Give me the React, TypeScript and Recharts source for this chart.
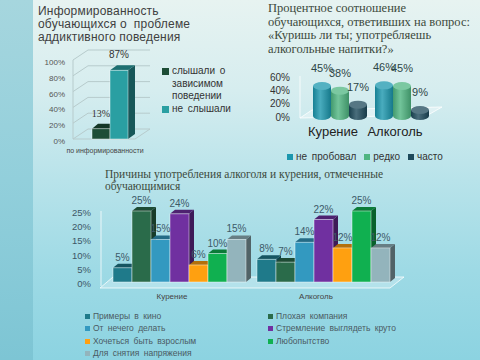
import { Bar, BarChart, CartesianGrid, LabelList, XAxis, YAxis } from "recharts";

const SANS = '"Liberation Sans", Arial, sans-serif';
const SERIF = '"Liberation Serif", "Times New Roman", serif';

// awareness chart
const awarenessCategories = ["по информированности"];
const awarenessSeries = ["слышали о зависимом поведении", "не слышали"];
const awarenessHeard = [13];
const awarenessNotHeard = [87];
const awarenessTicks = [0, 20, 40, 60, 80, 100];

// smoking / alcohol chart
const habitCategories = ["Курение", "Алкоголь"];
const habitSeries = ["не пробовал", "редко", "часто"];
const neverTried = [45, 46];
const rarely = [38, 45];
const often = [17, 9];
const habitTicks = [0, 20, 40, 60];

// reasons chart
const reasonCategories = ["Курение", "Алкоголь"];
const reasonSeries = [
  "Примеры в кино",
  "Плохая компания",
  "От нечего делать",
  "Стремление выглядеть круто",
  "Хочеться быть взрослым",
  "Любопытство",
  "Для снятия напряжения",
];
const reasonSmoking = [5, 25, 15, 24, 6, 10, 15];
const reasonAlcohol = [8, 7, 14, 22, 12, 25, 12];
const reasonTicks = [0, 5, 10, 15, 20, 25];

const awarenessColors = ["#1d4d36", "#2a9fa2"];
const habitColors = ["#1b97ae", "#4fb581", "#1d4a5b"];
const reasonColors = ["#1f7a8a", "#2a6b4a", "#3399c0", "#7030a0", "#ffa010", "#10b050", "#93b4bc"];

const awarenessData = awarenessCategories.map((name, i) => ({
  name,
  heard: awarenessHeard[i],
  notHeard: awarenessNotHeard[i],
}));

const habitData = habitCategories.map((name, i) => ({
  name,
  never: neverTried[i],
  rarely: rarely[i],
  often: often[i],
}));
const habitKeys = ["never", "rarely", "often"];

const reasonData = reasonCategories.map((name, i) => {
  const source = i === 0 ? reasonSmoking : reasonAlcohol;
  const row: Record<string, string | number> = { name };
  reasonSeries.forEach((_, j) => {
    row[`r${j}`] = source[j];
  });
  return row;
});

function mix(hex: string, k: number, target: number) {
  const n = parseInt(hex.slice(1), 16);
  const c = [(n >> 16) & 255, (n >> 8) & 255, n & 255].map((v) =>
    Math.round(v + (target - v) * k)
  );
  return `rgb(${c[0]},${c[1]},${c[2]})`;
}
const shade = (hex: string, k: number) => mix(hex, k, 0);
const tint = (hex: string, k: number) => mix(hex, k, 255);

function box(dx: number, dy: number) {
  return (props: any) => {
    const { x, y, width, height, fill } = props;
    if (!height || height <= 0) return <g />;
    const top = `${x},${y} ${x + dx},${y - dy} ${x + width + dx},${y - dy} ${x + width},${y}`;
    const side = `${x + width},${y} ${x + width + dx},${y - dy} ${x + width + dx},${y + height - dy} ${x + width},${y + height}`;
    return (
      <g>
        <polygon points={side} fill={shade(fill, 0.45)} />
        <polygon points={top} fill={shade(fill, 0.3)} />
        <rect
          x={x}
          y={y}
          width={width}
          height={height}
          fill={fill}
          stroke="rgba(255,255,255,0.55)"
          strokeWidth={0.8}
        />
      </g>
    );
  };
}

function cylinder(id: string) {
  return (props: any) => {
    const { x, y, width, height, fill } = props;
    const rx = width / 2;
    const ry = 4;
    const cx = x + rx;
    return (
      <g>
        <defs>
          <linearGradient id={id} x1="0" x2="1" y1="0" y2="0">
            <stop offset="0" stopColor={shade(fill, 0.15)} />
            <stop offset="0.4" stopColor={tint(fill, 0.2)} />
            <stop offset="1" stopColor={shade(fill, 0.2)} />
          </linearGradient>
        </defs>
        <ellipse cx={cx} cy={y + height} rx={rx} ry={ry} fill={`url(#${id})`} />
        <rect x={x} y={y} width={width} height={height} fill={`url(#${id})`} />
        <ellipse cx={cx} cy={y} rx={rx} ry={ry} fill={tint(fill, 0.25)} />
      </g>
    );
  };
}

const valueTick =
  (shiftX: number, dy: number, size: number, color: string) => (p: any) => (
    <text
      x={p.x - shiftX}
      y={p.y + dy}
      textAnchor="end"
      fontSize={size}
      fill={color}
      fontFamily={SANS}
    >
      {`${p.payload.value}%`}
    </text>
  );

const categoryTick =
  (dx: number, dy: number, size: number, color: string) => (p: any) => (
    <text
      x={p.x + dx}
      y={p.y + dy}
      textAnchor="middle"
      fontSize={size}
      fill={color}
      fontFamily={SANS}
    >
      {p.payload.value}
    </text>
  );

const wallLine = (p: any) => (
  <polyline
    key={p.key}
    points={`${p.x1},${p.y1} ${p.x1 + 15},${p.y1 - 10} ${p.x2 + 3},${p.y2 - 10}`}
    fill="none"
    stroke="#b7cbcc"
    strokeWidth={1}
  />
);

const pct = (v: any) => `${v}%`;

function Swatch({ color, size }: { color: string; size: number }) {
  return (
    <span
      style={{
        display: "inline-block",
        width: size,
        height: size,
        background: color,
        marginRight: 3,
        flex: "none",
      }}
    />
  );
}

export default function App() {
  return (
    <div
      style={{
        position: "fixed",
        left: 0,
        top: 0,
        width: 480,
        height: 360,
        overflow: "hidden",
        fontFamily: SANS,
        background:
          "linear-gradient(180deg, #e7f3f1 0%, #d6edef 25%, #b8e3ea 50%, #9edae5 75%, #8cd3e1 100%)",
      }}
    >
      <div
        style={{
          position: "absolute",
          left: 0,
          top: 0,
          width: 33,
          height: 360,
          background: "linear-gradient(180deg, #a6d6de 0%, #92cfdb 50%, #7dc5d4 100%)",
        }}
      />

      <svg
        width={480}
        height={360}
        style={{ position: "absolute", left: 0, top: 0 }}
      >
        <polyline
          points="73,139 135,139 150,129"
          fill="none"
          stroke="#b7cbcc"
        />
        <polygon
          points="300,118 428,115 442,107 312,110"
          fill="rgba(255,255,255,0.35)"
          stroke="rgba(255,255,255,0.8)"
        />
        <line x1={300} y1={76} x2={300} y2={118} stroke="rgba(255,255,255,0.8)" />
        <polygon
          points="100,288 390,288 404,277 113,277"
          fill="rgba(255,255,255,0.25)"
          stroke="rgba(255,255,255,0.75)"
        />
        <line x1={101} y1={211} x2={101} y2={286} stroke="rgba(255,255,255,0.75)" />
      </svg>

      {/* titles */}
      <div
        style={{
          position: "absolute",
          left: 38,
          top: 5,
          fontSize: 12,
          lineHeight: "13px",
          color: "#404040",
          letterSpacing: 0.2,
          whiteSpace: "nowrap",
        }}
      >
        Информированность
        <br />
        обучающихся о &nbsp;проблеме
        <br />
        аддиктивного поведения
      </div>
      <div
        style={{
          position: "absolute",
          left: 268,
          top: 2,
          fontFamily: SERIF,
          fontSize: 12.5,
          lineHeight: "13.5px",
          color: "#3c4a3c",
          whiteSpace: "nowrap",
        }}
      >
        Процентное соотношение
        <br />
        обучающихся, ответивших на вопрос:
        <br />
        «Куришь ли ты; употребляешь
        <br />
        алкогольные напитки?»
      </div>
      <div
        style={{
          position: "absolute",
          left: 105,
          top: 169,
          fontFamily: SERIF,
          fontSize: 11.5,
          lineHeight: "11.5px",
          color: "#3c4a3c",
          whiteSpace: "nowrap",
        }}
      >
        Причины употребления алкоголя и курения, отмеченные
        <br />
        обучающимися
      </div>

      {/* chart 1 */}
      <div style={{ position: "absolute", left: 40, top: 40 }}>
        <BarChart
          width={120}
          height={120}
          data={awarenessData}
          margin={{ left: 0, right: 13, top: 20, bottom: 5 }}
          barGap={0}
        >
          <CartesianGrid vertical={false} horizontal={wallLine} />
          <XAxis
            dataKey="name"
            axisLine={false}
            tickLine={false}
            height={16}
            interval={0}
            tick={categoryTick(-5, 6, 7, "#444")}
          />
          <YAxis
            domain={[0, 100]}
            ticks={awarenessTicks}
            interval={0}
            width={33}
            axisLine={{ stroke: "#b7cbcc" }}
            tickLine={false}
            tick={valueTick(0, 5, 8, "#555")}
          />
          <Bar
            dataKey="heard"
            name={awarenessSeries[0]}
            fill={awarenessColors[0]}
            barSize={18}
            shape={box(6, 5)}
            isAnimationActive={false}
          >
            <LabelList
              dataKey="heard"
              position="top"
              offset={12}
              formatter={pct}
              style={{ fontSize: 10, fill: "#333", fontFamily: SERIF }}
            />
          </Bar>
          <Bar
            dataKey="notHeard"
            name={awarenessSeries[1]}
            fill={awarenessColors[1]}
            barSize={18}
            shape={box(7, 5)}
            isAnimationActive={false}
          >
            <LabelList
              dataKey="notHeard"
              position="top"
              offset={12}
              formatter={pct}
              style={{ fontSize: 10, fill: "#333" }}
            />
          </Bar>
        </BarChart>
      </div>
      <div
        style={{
          position: "absolute",
          left: 162,
          top: 65,
          fontSize: 10,
          lineHeight: "12.5px",
          color: "#333",
        }}
      >
        {awarenessSeries.map((s, i) => (
          <div key={s} style={{ display: "flex", alignItems: "flex-start" }}>
            <span style={{ marginTop: 3, display: "flex" }}>
              <Swatch color={awarenessColors[i]} size={7} />
            </span>
            <span style={{ width: 62, wordSpacing: 2 }}>{s}</span>
          </div>
        ))}
      </div>

      {/* chart 2 */}
      <div style={{ position: "absolute", left: 260, top: 60 }}>
        <BarChart
          width={190}
          height={90}
          data={habitData}
          margin={{ left: 0, right: 17, top: 16, bottom: 4 }}
          barGap={0}
        >
          <XAxis
            dataKey="name"
            axisLine={false}
            tickLine={false}
            height={30}
            interval={0}
            tick={categoryTick(-7, 12, 13, "#222")}
          />
          <YAxis
            domain={[0, 60]}
            ticks={habitTicks}
            interval={0}
            width={49}
            axisLine={false}
            tickLine={false}
            tick={valueTick(11, 4.5, 10, "#333")}
          />
          {habitKeys.map((k, i) => (
            <Bar
              key={k}
              dataKey={k}
              name={habitSeries[i]}
              fill={habitColors[i]}
              barSize={18}
              shape={cylinder(`cyl-${k}`)}
              isAnimationActive={false}
            >
              <LabelList
                dataKey={k}
                position="top"
                offset={14}
                formatter={pct}
                style={{ fontSize: 11, fill: "#2d4646" }}
              />
            </Bar>
          ))}
        </BarChart>
      </div>
      <div
        style={{
          position: "absolute",
          left: 287,
          top: 151,
          display: "flex",
          gap: 8,
          fontSize: 10,
          lineHeight: "12px",
          color: "#333",
          whiteSpace: "nowrap",
        }}
      >
        {habitSeries.map((s, i) => (
          <div key={s} style={{ display: "flex", alignItems: "center" }}>
            <Swatch color={habitColors[i]} size={6} />
            <span style={{ wordSpacing: 2 }}>{s}</span>
          </div>
        ))}
      </div>

      {/* chart 3 */}
      <div style={{ position: "absolute", left: 60, top: 196 }}>
        <BarChart
          width={360}
          height={110}
          data={reasonData}
          margin={{ left: 0, right: 26, top: 15, bottom: 4 }}
          barGap={0}
          barCategoryGap={7}
        >
          <XAxis
            dataKey="name"
            axisLine={false}
            tickLine={false}
            height={20}
            interval={0}
            tick={categoryTick(-6, 9, 8, "#444")}
          />
          <YAxis
            domain={[0, 25]}
            ticks={reasonTicks}
            interval={0}
            width={46}
            axisLine={false}
            tickLine={false}
            tick={valueTick(7, 5, 9.5, "#3d5766")}
          />
          {reasonSeries.map((s, j) => (
            <Bar
              key={s}
              dataKey={`r${j}`}
              name={s}
              fill={reasonColors[j]}
              shape={box(5, 4)}
              isAnimationActive={false}
            >
              <LabelList
                dataKey={`r${j}`}
                position="top"
                offset={7}
                formatter={pct}
                style={{ fontSize: 10, fill: "#3d5a68" }}
              />
            </Bar>
          ))}
        </BarChart>
      </div>
      <div
        style={{
          position: "absolute",
          left: 85,
          top: 310,
          display: "grid",
          gridTemplateColumns: "183px 160px",
          fontSize: 8.5,
          lineHeight: "12.4px",
          color: "#4a5a62",
          whiteSpace: "nowrap",
        }}
      >
        {reasonSeries.map((s, j) => (
          <div key={s} style={{ display: "flex", alignItems: "center" }}>
            <Swatch color={reasonColors[j]} size={5} />
            <span style={{ wordSpacing: 2 }}>{s}</span>
          </div>
        ))}
      </div>
    </div>
  );
}
